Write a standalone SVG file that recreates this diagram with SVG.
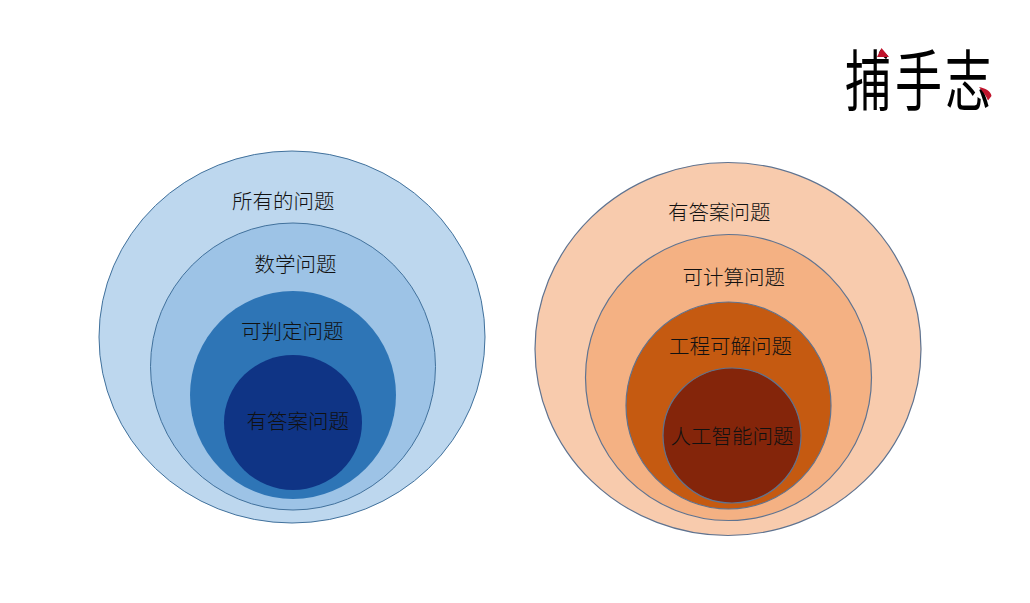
<svg xmlns="http://www.w3.org/2000/svg" width="1030" height="603" viewBox="0 0 1030 603">
<style>
text{font-family:"Noto Sans CJK SC","Noto Sans CJK JP",sans-serif;font-size:20.5px;font-weight:300;fill:#111}
.s{stroke:#41719c;stroke-width:1}
.o{stroke:#5f7390;stroke-width:1.2}
.logo{font-size:48px;font-weight:400;fill:#000}
</style>
<rect width="1030" height="603" fill="#fff"/>
<g id="logo">
<text class="logo" transform="translate(845 105) scale(0.96 1.38)">捕</text>
<text class="logo" transform="translate(895 105) scale(0.98 1.38)">手</text>
<text class="logo" transform="translate(945 105) scale(0.96 1.38)">志</text>
<path d="M881.500 48L889 57H877Z" fill="#c0142c"/>
<path d="M979 87C985 88 991 91 991.500 96L988 100.500C986 95 982 91 979 87Z" fill="#c0142c"/>
</g>
<g id="blue-all"><ellipse class="s" cx="292" cy="337" rx="193" ry="186" fill="#bdd7ee"/><text x="232" y="209">所有的问题</text></g>
<g id="blue-math"><ellipse class="s" cx="293" cy="366.5" rx="142.5" ry="143.5" fill="#9dc3e6"/><text x="254.500" y="272">数学问题</text></g>
<g id="blue-decidable"><ellipse cx="293" cy="395" rx="103" ry="104" fill="#2e75b6"/><text x="241" y="339">可判定问题</text></g>
<g id="blue-answer"><ellipse cx="293" cy="422.500" rx="69" ry="67.500" fill="#0f3485"/><text x="246.500" y="429">有答案问题</text></g>
<g id="orange-answer"><ellipse class="o" cx="728" cy="349" rx="193" ry="186.500" fill="#f8cbad"/><text x="668" y="220">有答案问题</text></g>
<g id="orange-computable"><ellipse class="o" cx="728.500" cy="377.500" rx="143" ry="143" fill="#f4b183"/><text x="682.500" y="285">可计算问题</text></g>
<g id="orange-engineering"><ellipse class="o" cx="728.500" cy="405.500" rx="102.500" ry="103.500" fill="#c55a11"/><text x="669" y="354">工程可解问题</text></g>
<g id="orange-ai"><ellipse class="o" cx="732" cy="435.500" rx="69" ry="67.500" fill="#84250a"/><text x="670.500" y="444">人工智能问题</text></g>
<g id="connectors"></g>
</svg>
